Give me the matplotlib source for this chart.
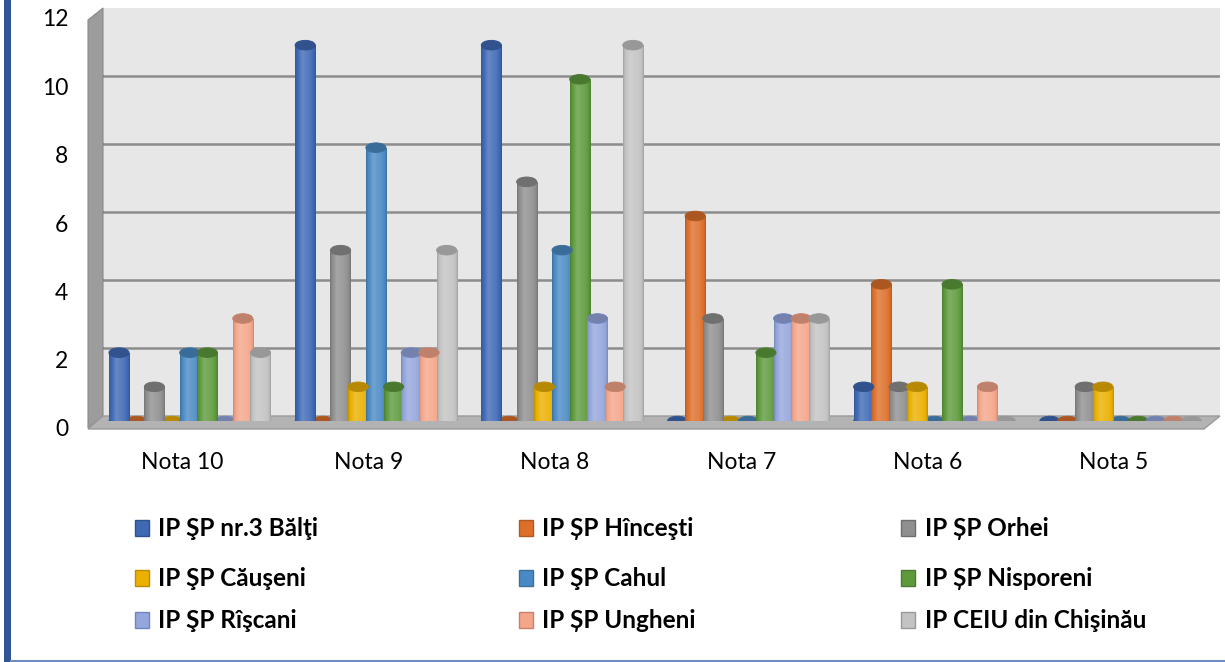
import numpy as np
import matplotlib
matplotlib.use("Agg")
import matplotlib.pyplot as plt
from matplotlib.patches import Polygon, Ellipse, Rectangle
from matplotlib import transforms
from matplotlib.colors import to_rgb

plt.rcParams['font.family'] = ['Lato', 'DejaVu Sans']

# ---------------- data ----------------
categories = ["Nota 10", "Nota 9", "Nota 8", "Nota 7", "Nota 6", "Nota 5"]
series_names = ["IP ŞP nr.3 Bălţi", "IP ȘP Hînceşti", "IP ȘP Orhei",
                "IP ŞP Căuşeni", "IP ŞP Cahul", "IP ȘP Nisporeni",
                "IP ŞP Rîşcani", "IP ȘP Ungheni", "IP CEIU din Chişinău"]
balti     = [2, 11, 11, 0, 1, 0]
hincesti  = [0, 0, 0, 6, 4, 0]
orhei     = [1, 5, 7, 3, 1, 1]
causeni   = [0, 1, 1, 0, 1, 1]
cahul     = [2, 8, 5, 0, 0, 0]
nisporeni = [2, 1, 10, 2, 4, 0]
riscani   = [0, 2, 3, 3, 0, 0]
ungheni   = [3, 2, 1, 3, 1, 0]
ceiu      = [2, 5, 11, 3, 0, 0]
series_values = [balti, hincesti, orhei, causeni, cahul, nisporeni, riscani, ungheni, ceiu]
y_ticks = [0, 2, 4, 6, 8, 10, 12]

# ---------------- style ----------------
colors = ["#3F69B5", "#DD6F2A", "#8F8F8F", "#EBB000", "#4A8AC4",
          "#5E9A3C", "#94A6DC", "#F4A68A", "#C3C3C3"]
edges = ["#2F528F", "#AE5A21", "#6E6E6E", "#BC8C00", "#3D6F9E",
         "#4B7A30", "#6E85C0", "#C98068", "#999999"]
legend_size = 17.5

W, H = 1225, 662
fig = plt.figure(figsize=(W / 100, H / 100), dpi=100)

def px(x, y):
    return (x / W, 1 - y / H)

# axes: value 0 at y=421 px, 12 at y=11 px ; x from 103 to 1220 px
ax_left, ax_right, y0, y12 = 103, 1220, 421, 11
ax = fig.add_axes([ax_left / W, 1 - y0 / H, (ax_right - ax_left) / W, (y0 - y12) / H])
ax.set_facecolor("none")
for s in ax.spines.values():
    s.set_visible(False)

# back wall, side wall, floor (decoration in figure pixels)
back = Polygon([px(103, 8), px(1220, 8), px(1220, 416), px(103, 416)], closed=True,
               transform=fig.transFigure, facecolor="#E7E7E7", edgecolor="none", zorder=0.1, clip_on=False)
side = Polygon([px(88, 20), px(103, 8), px(103, 416), px(88, 428)], closed=True,
               transform=fig.transFigure, facecolor="#9C9C9C", edgecolor="#8A8A8A", lw=0.8, zorder=0.2, clip_on=False)
floor = Polygon([px(103, 416), px(1220, 416), px(1204, 429), px(88, 429)], closed=True,
                transform=fig.transFigure, facecolor="#B3B3B3", edgecolor="#9A9A9A", lw=1.0, zorder=0.3, clip_on=False)
for p in (back, side, floor):
    ax.add_artist(p)

# grid lines on back wall (+ diagonals on side wall)
for v in y_ticks[1:]:
    yb = 8 + (12 - v) * 34.0
    ax.add_artist(plt.Line2D([103 / W, 1220 / W], [1 - yb / H] * 2, transform=fig.transFigure,
                             color="#8C8C8C", lw=1.8, zorder=0.4))
    ax.add_artist(plt.Line2D([88 / W, 103 / W], [1 - (yb + 12) / H, 1 - yb / H], transform=fig.transFigure,
                             color="#7E7E7E", lw=1.2, zorder=0.4))

n_ser = len(series_names)
step = 0.095
bw = 0.108
cap_h = 0.28
x = np.arange(len(categories))

def shade(c, t):
    c = np.array(to_rgb(c))
    s = 0.32 * np.sin(np.pi * np.clip(t, 0, 1)) ** 0.6 - 0.18
    s = s + 0.08 * np.exp(-((t - 0.35) / 0.12) ** 2)
    out = np.where(s[:, None] > 0, c + (1 - c) * s[:, None], c * (1 + s[:, None]))
    return np.clip(out, 0, 1)

tt = np.linspace(0, 1, 40)
for j, (vals, col, ec) in enumerate(zip(series_values, colors, edges)):
    xs = x + (j - (n_ser - 1) / 2) * step - 0.034
    grad = shade(col, tt)[None, :, :]
    dark = np.array(to_rgb(col)) * 0.78
    bars = ax.bar(xs, vals, width=bw, bottom=0, color=col, edgecolor="none", zorder=2 + j * 0.01)
    for xi, v, b in zip(xs, vals, bars):
        ax.add_patch(Ellipse((xi, 0), bw, cap_h, facecolor=dark if v == 0 else col,
                             edgecolor=ec, lw=0.6, zorder=1.9 + j * 0.01))
        if v > 0:
            im = ax.imshow(grad, extent=(xi - bw / 2, xi + bw / 2, 0, v), aspect="auto",
                           interpolation="bilinear", zorder=2.05 + j * 0.01)
            im.set_clip_path(b)
            ax.add_patch(Ellipse((xi, v), bw, cap_h, facecolor=dark, edgecolor=ec, lw=0.7,
                                 zorder=2.1 + j * 0.01))

ax.set_xlim(-0.5, 5.5)
ax.set_ylim(0, 12)

# ticks
ax.set_yticks(y_ticks)
ax.set_yticklabels([str(v) for v in y_ticks], fontsize=16.5, color="#000000")
ax.tick_params(axis="y", length=0, pad=25)
off = transforms.ScaledTranslation(0, -7 / 100, fig.dpi_scale_trans)
for lab in ax.get_yticklabels():
    lab.set_transform(lab.get_transform() + off)

ax.set_xticks(x - 0.072)
ax.set_xticklabels(categories, fontsize=16.5, color="#000000")
ax.tick_params(axis="x", length=0, pad=22)

# legend (manual, 3 columns row-wise)
col_mark_x = [135, 519, 901]
col_text_x = [158, 542, 925]
row_y = [528, 578, 620]
for k, name in enumerate(series_names):
    r, c = divmod(k, 3)
    mx, my = col_mark_x[c], row_y[r]
    fig.add_artist(Rectangle(px(mx, my + 8), 14 / W, 16 / H, transform=fig.transFigure,
                             facecolor=colors[k], edgecolor=edges[k], lw=1.0))
    fig.text(col_text_x[c] / W, 1 - my / H, name, fontsize=legend_size, fontweight="bold",
             ha="left", va="center", color="#000000")

# outer frame
fig.add_artist(Rectangle((4 / W, 0), 7 / W, 1, transform=fig.transFigure,
                         facecolor="#2F5597", edgecolor="none"))
fig.add_artist(plt.Line2D([11 / W, 1], [1.2 / H, 1.2 / H], transform=fig.transFigure,
                          color="#6F8EC0", lw=1.5))

fig.savefig("out.png", dpi=100)
